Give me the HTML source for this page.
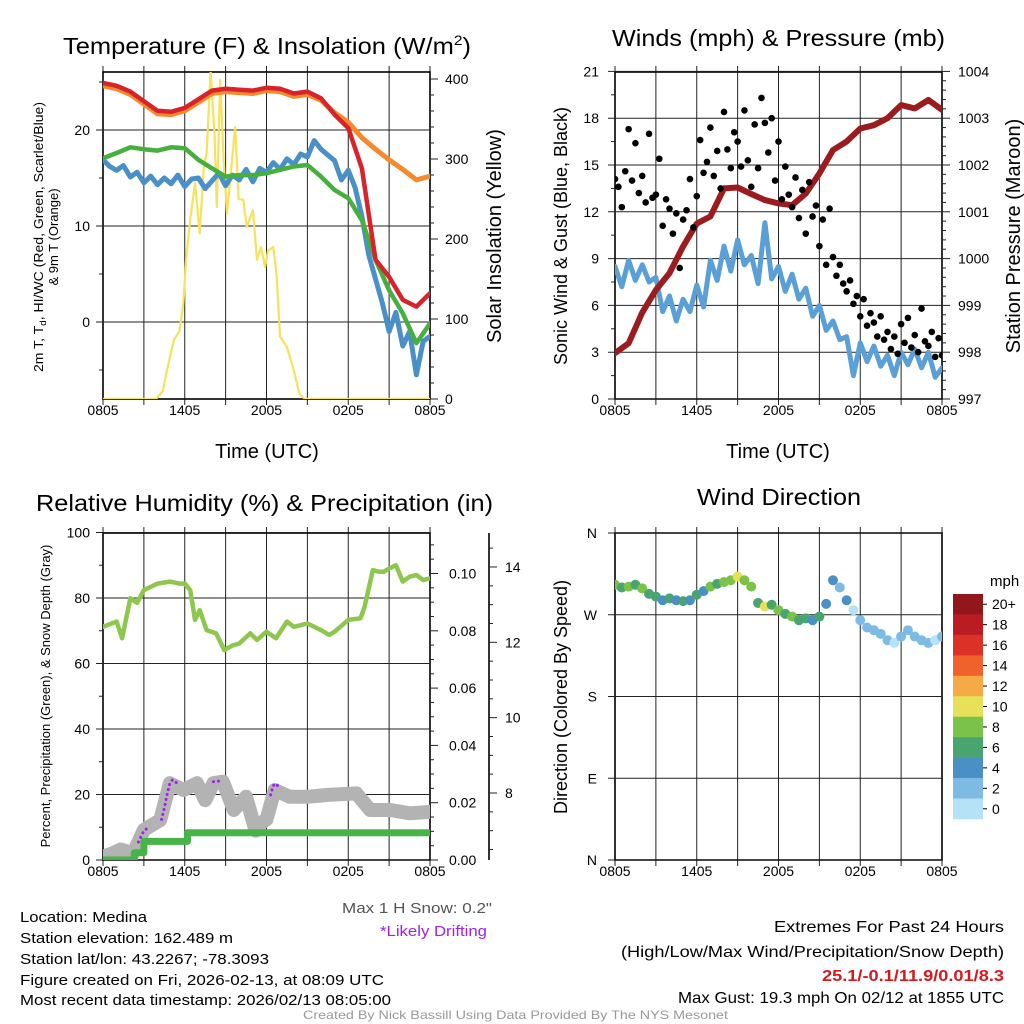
<!DOCTYPE html>
<html><head><meta charset="utf-8"><title>Mesonet Meteogram - Medina</title>
<style>
html,body{margin:0;padding:0;background:#fff;}
svg{display:block;font-family:"Liberation Sans",Arial,sans-serif;}
</style></head>
<body>
<svg id="chart" xmlns="http://www.w3.org/2000/svg" width="1024" height="1024" viewBox="0 0 1024 1024">
<rect x="0" y="0" width="1024" height="1024" fill="#fff"/>
<defs>
<clipPath id="c1"><rect x="103" y="72" width="327" height="327"/></clipPath>
<clipPath id="c2"><rect x="615" y="72" width="327" height="327"/></clipPath>
<clipPath id="c3"><rect x="103" y="533" width="327" height="327"/></clipPath>
<clipPath id="c4"><rect x="615" y="533" width="327" height="327"/></clipPath>
</defs>
<g id="layer"></g>
<!-- titles -->
<text x="63" y="54" font-size="23" textLength="408" lengthAdjust="spacingAndGlyphs">Temperature (F) &amp; Insolation (W/m<tspan dy="-9" font-size="14">2</tspan><tspan dy="9">)</tspan></text>
<text x="612" y="46" font-size="23" textLength="333" lengthAdjust="spacingAndGlyphs">Winds (mph) &amp; Pressure (mb)</text>
<text x="36" y="511" font-size="23" textLength="457" lengthAdjust="spacingAndGlyphs">Relative Humidity (%) &amp; Precipitation (in)</text>
<text x="697" y="505" font-size="23" textLength="164" lengthAdjust="spacingAndGlyphs">Wind Direction</text>
<!-- axis titles -->
<text transform="translate(43,237) rotate(-90)" text-anchor="middle" font-size="13" textLength="270" lengthAdjust="spacingAndGlyphs">2m T, T<tspan font-size="9" dy="3">d</tspan><tspan dy="-3">, HI/WC (Red, Green, Scarlet/Blue)</tspan></text>
<text transform="translate(58,237) rotate(-90)" text-anchor="middle" font-size="13">&amp; 9m T (Orange)</text>
<text transform="translate(501,236) rotate(-90)" text-anchor="middle" font-size="20">Solar Insolation (Yellow)</text>
<text x="267" y="458" text-anchor="middle" font-size="20">Time (UTC)</text>
<text transform="translate(567,236) rotate(-90)" text-anchor="middle" font-size="18">Sonic Wind &amp; Gust (Blue, Black)</text>
<text transform="translate(1020,236) rotate(-90)" text-anchor="middle" font-size="20">Station Pressure (Maroon)</text>
<text x="778" y="458" text-anchor="middle" font-size="20">Time (UTC)</text>
<text transform="translate(50,696) rotate(-90)" text-anchor="middle" font-size="13">Percent, Precipitation (Green), &amp; Snow Depth (Gray)</text>
<text transform="translate(567,697) rotate(-90)" text-anchor="middle" font-size="18">Direction (Colored By Speed)</text>
<text x="990" y="586" font-size="15">mph</text>
<!-- notes -->
<text x="492" y="913" text-anchor="end" font-size="15" fill="#555" textLength="150" lengthAdjust="spacingAndGlyphs">Max 1 H Snow: 0.2"</text>
<text x="487" y="936" text-anchor="end" font-size="15" fill="#a020f0" textLength="107" lengthAdjust="spacingAndGlyphs">*Likely Drifting</text>
<g font-size="15">
<text x="20" y="922" textLength="127" lengthAdjust="spacingAndGlyphs">Location: Medina</text>
<text x="20" y="943" textLength="213" lengthAdjust="spacingAndGlyphs">Station elevation: 162.489 m</text>
<text x="20" y="964" textLength="249" lengthAdjust="spacingAndGlyphs">Station lat/lon: 43.2267; -78.3093</text>
<text x="20" y="985" textLength="364" lengthAdjust="spacingAndGlyphs">Figure created on Fri, 2026-02-13, at 08:09 UTC</text>
<text x="20" y="1005" textLength="371" lengthAdjust="spacingAndGlyphs">Most recent data timestamp: 2026/02/13 08:05:00</text>
</g>
<g font-size="16" text-anchor="end">
<text x="1004" y="932" textLength="230" lengthAdjust="spacingAndGlyphs">Extremes For Past 24 Hours</text>
<text x="1004" y="957" textLength="383" lengthAdjust="spacingAndGlyphs">(High/Low/Max Wind/Precipitation/Snow Depth)</text>
<text x="1004" y="981" fill="#d7191c" font-weight="bold" textLength="182" lengthAdjust="spacingAndGlyphs">25.1/-0.1/11.9/0.01/8.3</text>
<text x="1004" y="1003" textLength="326" lengthAdjust="spacingAndGlyphs">Max Gust: 19.3 mph On 02/12 at 1855 UTC</text>
</g>
<text x="303" y="1019" font-size="12" fill="#999" textLength="425" lengthAdjust="spacingAndGlyphs">Created By Nick Bassill Using Data Provided By The NYS Mesonet</text>
</svg>
<script>
// ---------- data (hours since 0805 UTC) ----------
const timeTickLabels = ["0805","1405","2005","0205","0805"];
const tempRed = [24.9,24.6,24.0,23.0,22.0,21.9,22.3,23.2,24.1,24.3,24.2,24.1,24.4,24.3,23.8,24.0,23.3,21.6,20.2,16.0,6.5,4.7,2.3,1.6,3.0];
const tempOrange = [24.6,24.3,23.7,22.7,21.7,21.6,22.0,22.9,23.8,24.0,23.9,23.8,24.1,24.0,23.5,23.7,23.1,21.8,20.8,19.2,18.0,16.9,15.9,14.8,15.2];
const tempGreen = [17.05,17.6,18.2,18.0,17.85,18.2,18.1,16.9,16.0,15.15,15.3,15.3,15.5,15.85,16.2,16.35,15.15,13.75,12.9,10.6,6.5,3.3,0.9,-2.2,-0.15];
const dewBlue = [16.9,16.2,15.8,16.3,15.1,15.6,14.5,15.2,14.3,15.0,14.4,15.3,14.1,14.9,15.0,13.9,14.7,15.5,14.2,15.3,14.8,15.9,14.6,16.0,15.6,16.6,15.9,17.0,16.4,17.5,17.2,18.9,18.0,17.4,16.8,14.8,15.8,14.0,11.0,7.0,4.5,2.0,-1.0,1.0,-2.5,-1.0,-5.5,-2.0,-1.5];
const solarT = [0,3.9,4.4,4.7,5.2,5.6,5.9,6.1,6.4,6.75,7.1,7.4,7.6,7.9,8.2,8.35,8.6,8.85,9.1,9.35,9.7,9.95,10.3,10.55,11.0,11.3,11.6,11.9,12.1,12.5,12.75,13.0,13.5,14.0,14.4,14.8,24];
const solarV = [0,0,10,36,74,84,120,174,224,270,207,290,307,410,327,240,399,299,232,278,340,250,249,215,236,174,190,165,185,190,153,78,65,36,7,0,0];
const windSpeed = [8.5,7.2,8.9,7.6,8.6,7.5,7.8,5.6,6.6,5.0,6.4,5.6,7.3,5.9,8.9,7.6,9.8,8.2,10.2,8.6,9.2,7.4,11.3,7.7,8.5,6.9,8.0,6.4,7.1,5.3,6.0,4.4,5.0,3.8,4.0,1.5,3.6,2.4,3.4,2.1,2.8,1.5,3.0,2.2,3.2,2.0,3.0,1.4,2.0];
const windGust = [14.1,13.6,12.3,14.6,17.3,14.0,16.4,13.2,14.3,12.6,17.0,12.9,13.1,15.4,11.1,12.8,12.2,10.6,11.9,8.4,11.5,12.1,14.1,11.0,13.0,16.6,14.5,15.2,17.4,14.3,15.9,13.5,18.4,16.0,14.8,17.1,16.5,14.9,18.5,15.3,13.6,17.6,14.8,19.3,17.7,15.8,18.0,14.0,16.5,12.8,14.9,13.1,12.3,14.2,11.6,13.4,10.6,13.9,11.7,12.4,9.8,11.5,8.6,12.2,9.1,7.9,8.6,7.4,6.9,7.6,6.1,6.6,5.3,6.4,4.7,5.5,4.9,4.0,5.3,3.8,4.3,3.2,4.0,2.9,4.8,3.6,5.2,3.3,4.1,3.0,5.8,3.7,3.4,4.3,2.7,3.9,2.8];
const pressure = [997.98,998.19,998.85,999.33,999.69,1000.26,1000.75,1000.9,1001.5,1001.52,1001.38,1001.25,1001.18,1001.14,1001.39,1001.82,1002.32,1002.5,1002.78,1002.85,1003.0,1003.28,1003.21,1003.39,1003.18];
const rhT = [0,0.5,1,1.4,2,2.5,3,4,4.9,5.6,6,6.4,6.75,7.1,7.6,8.3,8.9,9.5,10,10.8,11.3,12,12.7,13.5,14,15,16,16.6,17,18,18.9,19.2,19.8,20.3,20.6,21,21.5,22,22.5,23,23.5,24];
const rhV = [71.2,72,72.8,67.7,79.9,78.5,82.4,84.4,85,84.4,84.4,82.4,73.3,76.3,70.2,69.2,64.1,65.5,66.1,69.2,67.2,69.7,67.7,72.8,71.2,72.2,70.2,68.7,69.7,73.3,73.8,77.3,88.5,88.0,88,89,90,85,86.5,87,85.5,86];
const precipT = [0,2.3,2.3,3.0,3.0,6.2,6.2,24];
const precipV = [0,0,0.0025,0.0025,0.0065,0.0065,0.0095,0.0095];
const snowT = [0,0.7,1.3,2.2,3.0,4.2,4.9,5.9,6.9,7.5,8.1,8.8,9.6,10.5,11.2,11.6,12.0,12.6,13.7,15,16.5,18.6,19.6,21.1,22.5,24];
const snowV = [6.31,6.4,6.5,6.4,7.02,7.28,8.26,8.08,8.26,7.81,8.26,8.3,7.55,7.9,7.0,7.2,7.3,8.08,7.9,7.9,7.95,7.99,7.55,7.55,7.46,7.5];
const driftT = [2.6,2.8,3.0,3.2,null,4.3,4.5,4.7,4.9,5.1,5.3,5.6,null,8.1,8.4,8.7,null,11.1,null,12.3,12.5,12.7,12.9];
const driftV = [6.7,6.85,7.0,7.05,null,7.3,7.6,7.95,8.25,8.35,8.3,8.2,null,8.3,8.32,8.3,null,7.9,null,7.95,8.2,8.25,8.15];
const windDir = [303,300,301,303,299,293,290,286,288,286,285,286,292,296,301,304,306,308,312,308,301,283,279,281,275,271,268,264,266,264,268,282,308,300,286,275,264,256,253,249,242,239,246,253,246,242,239,242,246];
const speedColors = ["#b5e2f6","#7ebbe4","#4a8fc6","#48a56f","#7bc24a","#e6e159","#f6aa46","#f0612b","#dc3127","#bb1c24","#93161b"];
const speedLabels = ["0","2","4","6","8","10","12","14","16","18","20+"];

// ---------- scales ----------
const xL = t => 103 + t*13.625;
const xR = t => 615 + t*13.625;
const yT = v => 322 - 9.6*v;
const yS = v => 399 - 0.8*v;
const yW = v => 399 - 15.6*v;
const yP = v => 399 - 46.8*(v-997);
const yR = v => 860 - 3.275*v;
const yPr = v => 860 - 2865*v;
const ySn = v => 793 - 37.67*(v-8);
const yD = v => 860 - 0.9083*v;
const idxT = (i,n) => i*24/(n-1);

const NS = "http://www.w3.org/2000/svg";
const layer = document.getElementById("layer");
function mk(tag, attrs, name, parent){
  const el = document.createElementNS(NS, tag);
  for (const k in attrs) el.setAttribute(k, attrs[k]);
  
  
  (parent||layer).appendChild(el);
  return el;
}
function pathD(ts, vs, xf, yf){
  let d = "", pen = false;
  for (let i=0;i<ts.length;i++){
    if (ts[i]===null || vs[i]===null){ pen=false; continue; }
    d += (pen?"L":"M") + xf(ts[i]).toFixed(1) + "," + yf(vs[i]).toFixed(1);
    pen = true;
  }
  return d;
}
function reg(vals){ return vals.map((v,i)=>idxT(i,vals.length)); }

// ---------- axes frame helper ----------
function frame(x0, y0, xf, name){
  const g = mk("g", {}, name+"-axes");
  // vertical grid every 3h
  for (let h=0; h<=24; h+=3){
    const x = xf(h);
    mk("line", {x1:x,y1:y0-6,x2:x,y2:y0+327+6,stroke:"#222","stroke-width":1}, name+"-x-gridline", g);
  }
  for (let i=0;i<timeTickLabels.length;i++){
    const t = mk("text", {x:xf(i*6), y:y0+343, "text-anchor":"middle","font-size":14}, name+"-x-tick-label", g);
    t.textContent = timeTickLabels[i];
  }
  mk("rect", {x:x0,y:y0,width:327,height:327,fill:"none",stroke:"#000","stroke-width":1.6}, name+"-plot-frame", g);
  return g;
}
function hTicks(g, vals, yf, x0, name, labelFn, labelX, anchor, major, minorOut){
  vals.forEach(v=>{
    const y = yf(v);
    if (major){
      mk("line", {x1:x0-7,y1:y,x2:x0+327,y2:y,stroke:"#222","stroke-width":1}, name+"-y-gridline", g);
      const t = mk("text", {x:labelX, y:y+5, "text-anchor":anchor, "font-size":14}, name+"-y-tick-label", g);
      t.textContent = labelFn(v);
    } else {
      mk("line", {x1:x0-4,y1:y,x2:x0,y2:y,stroke:"#222","stroke-width":1}, name+"-y-minor-tick", g);
    }
  });
}
function rTicks(g, vals, yf, xa, len, name, labelFn, labelX, fs){
  vals.forEach(v=>{
    const y = yf(v);
    mk("line", {x1:xa,y1:y,x2:xa+len,y2:y,stroke:"#222","stroke-width":1}, name+"-tick", g);
    if (labelFn){
      const t = mk("text", {x:labelX, y:y+5, "font-size":fs||14}, name+"-tick-label", g);
      t.textContent = labelFn(v);
    }
  });
}

// ===== Panel 1: temperature =====
const g1 = frame(103,72,xL,"temperature");
hTicks(g1,[20,10,0],yT,103,"temperature",v=>String(v),90,"end",true);
hTicks(g1,[25,15,5,-5],yT,103,"temperature",null,0,"end",false);
rTicks(g1,[0,100,200,300,400],yS,430,8,"insolation-major",v=>String(v),445);
const minS=[]; for(let w=20;w<400;w+=20){ if(w%100) minS.push(w); }
rTicks(g1,minS,yS,430,4,"insolation-minor",null);
const s1 = mk("g",{"clip-path":"url(#c1)",fill:"none","stroke-linejoin":"round","stroke-linecap":"round"},"temperature-series");
mk("path",{d:pathD(solarT,solarV,xL,yS),stroke:"#f6e35a","stroke-width":2.2},"solar-insolation-line",s1);
mk("path",{d:pathD(reg(dewBlue),dewBlue,xL,yT),stroke:"#4a90c8","stroke-width":5},"dewpoint-line",s1);
mk("path",{d:pathD(reg(tempGreen),tempGreen,xL,yT),stroke:"#45b03e","stroke-width":4.5},"heat-index-line",s1);
mk("path",{d:pathD(reg(tempOrange),tempOrange,xL,yT),stroke:"#f58a2c","stroke-width":5},"temp-9m-line",s1);
mk("path",{d:pathD(reg(tempRed),tempRed,xL,yT),stroke:"#d8232a","stroke-width":4.5},"temp-2m-line",s1);

// ===== Panel 2: winds & pressure =====
const g2 = frame(615,72,xR,"winds");
hTicks(g2,[0,3,6,9,12,15,18,21],yW,615,"winds",v=>String(v),599,"end",true);
hTicks(g2,[1.5,4.5,7.5,10.5,13.5,16.5,19.5],yW,615,"winds",null,0,"end",false);
rTicks(g2,[997,998,999,1000,1001,1002,1003,1004],yP,942,8,"pressure-major",v=>String(v),958);
const minP=[]; for(let p=997.2;p<1004;p+=0.2){ if(Math.abs(p-Math.round(p))>0.05) minP.push(p); }
rTicks(g2,minP,yP,942,4,"pressure-minor",null);
const s2 = mk("g",{"clip-path":"url(#c2)",fill:"none","stroke-linejoin":"round","stroke-linecap":"round"},"winds-series");
mk("path",{d:pathD(reg(windSpeed),windSpeed,xR,yW),stroke:"#5a9fd6","stroke-width":5},"sustained-wind-line",s2);
mk("path",{d:pathD(reg(pressure),pressure,xR,yP),stroke:"#9b1b1e","stroke-width":6},"pressure-line",s2);
windGust.forEach((v,i)=>{
  const c = mk("circle",{cx:xR(idxT(i,windGust.length)),cy:yW(v),r:3.3,fill:"#000"},"gust-point",s2);
});

// ===== Panel 3: humidity / precip / snow =====
const g3 = frame(103,533,xL,"humidity");
hTicks(g3,[0,20,40,60,80,100],yR,103,"humidity",v=>String(v),90,"end",true);
hTicks(g3,[10,30,50,70,90],yR,103,"humidity",null,0,"end",false);
rTicks(g3,[0,0.02,0.04,0.06,0.08,0.10],yPr,430,8,"precip-major",v=>v.toFixed(2),449);
const minPr=[]; for(let k=1;k<23;k++){ if(k%4) minPr.push(k*0.005); }
rTicks(g3,minPr,yPr,430,4,"precip-minor",null);
mk("line",{x1:489,y1:533,x2:489,y2:860,stroke:"#000","stroke-width":1.6},"snow-depth-axis-line",g3);
rTicks(g3,[8,10,12,14],ySn,489,8,"snow-major",v=>String(v),505);
const minSn=[]; for(let s=6.5;s<14.8;s+=0.5){ if(s%2) minSn.push(s); }
rTicks(g3,minSn,ySn,489,4,"snow-minor",null);
const s3 = mk("g",{"clip-path":"url(#c3)",fill:"none","stroke-linejoin":"round","stroke-linecap":"round"},"humidity-series");
mk("path",{d:pathD(snowT,snowV,xL,ySn),stroke:"#b3b3b3","stroke-width":14},"snow-depth-line",s3);
mk("path",{d:pathD(driftT,driftV,xL,ySn),stroke:"#a020f0","stroke-width":3,"stroke-dasharray":"0.1 5"},"drifting-snow-markers",s3);
mk("path",{d:pathD(precipT,precipV,xL,yPr),stroke:"#47b447","stroke-width":7},"precipitation-line",s3);
mk("path",{d:pathD(rhT,rhV,xL,yR),stroke:"#8dc74e","stroke-width":4.5},"relative-humidity-line",s3);

// ===== Panel 4: wind direction =====
const g4 = frame(615,533,xR,"direction");
const dirTicks=[0,90,180,270,360], dirLabels=["N","E","S","W","N"];
dirTicks.forEach((d,i)=>{
  const y = yD(d);
  mk("line",{x1:608,y1:y,x2:942,y2:y,stroke:"#222","stroke-width":1},"direction-y-gridline",g4);
  const t = mk("text",{x:597,y:y+5,"text-anchor":"end","font-size":14},"direction-y-tick-label",g4);
  t.textContent = dirLabels[i];
});
const s4 = mk("g",{"clip-path":"url(#c4)"},"direction-series");
windDir.forEach((d,i)=>{
  const bin = Math.min(10, Math.floor(windSpeed[i]/2));
  mk("circle",{cx:xR(idxT(i,windDir.length)),cy:yD(d),r:5,fill:speedColors[bin]},"direction-point",s4);
});
// colorbar
const cb = mk("g",{},"speed-colorbar");
const binH = 225/speedColors.length;
for (let k=0;k<speedColors.length;k++){
  const idx = speedColors.length-1-k;
  const y = 594 + k*binH;
  mk("rect",{x:953,y:y,width:30,height:binH+0.3,fill:speedColors[idx]},"colorbar-bin",cb);
  mk("line",{x1:983,y1:y+binH/2,x2:987,y2:y+binH/2,stroke:"#000","stroke-width":1},"colorbar-tick",cb);
  const t = mk("text",{x:992,y:y+binH/2+5,"font-size":14},"colorbar-label",cb);
  t.textContent = speedLabels[idx];
}
</script>
</body></html>
